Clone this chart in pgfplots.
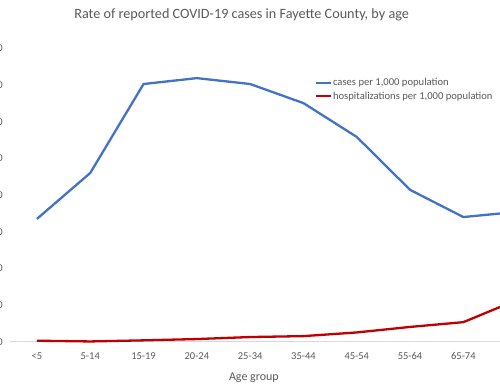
\documentclass[border=0pt]{standalone}
\usepackage{pgfplots}
\pgfplotsset{compat=1.18}
\usepackage{fontspec}
\setmainfont{Carlito}
\definecolor{exblue}{HTML}{4472C4}
\definecolor{exred}{HTML}{C00000}
\definecolor{txt}{HTML}{595959}
\definecolor{axl}{HTML}{D9D9D9}
\begin{document}
\begin{tikzpicture}
\useasboundingbox (-10.3pt,-45pt) rectangle (489.7pt,342pt);
\begin{axis}[
  at={(0pt,0pt)}, anchor=south west,
  scale only axis, width=533pt, height=294pt,
  xmin=-0.5, xmax=9.5, ymin=0, ymax=80,
  xtick={0,...,9},
  xticklabels={<5,5-14,15-19,20-24,25-34,35-44,45-54,55-64,65-74,{}},
  ytick={0,10,...,80},
  axis x line*=bottom, axis y line*=left,
  x axis line style={draw=axl, line width=1pt, -},
  y axis line style={draw=none},
  major tick length=0pt,
  /pgf/number format/assume math mode=true,
  tick label style={font=\fontsize{10.5}{12}\selectfont, text=txt},
  xticklabel style={anchor=base, yshift=-17.3pt},
  yticklabel style={anchor=east, xshift=-4pt},
  xlabel={Age group},
  xlabel style={at={(axis description cs:0.457,0)}, anchor=base, yshift=-39pt, font=\fontsize{12}{14}\selectfont, text=txt},
  title={Rate of reported COVID-19 cases in Fayette County, by age},
  title style={at={(axis description cs:0.434,1)}, anchor=base, yshift=23pt, font=\fontsize{14.2}{16}\selectfont, text=txt},
  legend style={draw=none, fill=none, at={(axis description cs:0.5705,0.902)}, anchor=north west,
    font=\fontsize{10.6}{12}\selectfont, text=txt, inner sep=0pt, row sep=1.5pt,
    nodes={inner sep=1.5pt}},
  legend cell align=left,
  legend image code/.code={\draw[#1, line width=2pt] (0pt,0pt) -- (15pt,0pt);},
  clip=false,
]
\addplot[exblue, line width=2.3pt] coordinates {
  (0,33.5) (1,46.0) (2,70.2) (3,71.8) (4,70.2) (5,65.0) (6,55.8) (7,41.4) (8,34.0) (9,35.4)};
\addlegendentry{cases per 1,000 population}
\addplot[exred, line width=2.3pt] coordinates {
  (0,0.35) (1,0.15) (2,0.45) (3,0.8) (4,1.35) (5,1.6) (6,2.6) (7,4.1) (8,5.4) (9,11.4)};
\addlegendentry{hospitalizations per 1,000 population}
\end{axis}
\end{tikzpicture}
\end{document}
